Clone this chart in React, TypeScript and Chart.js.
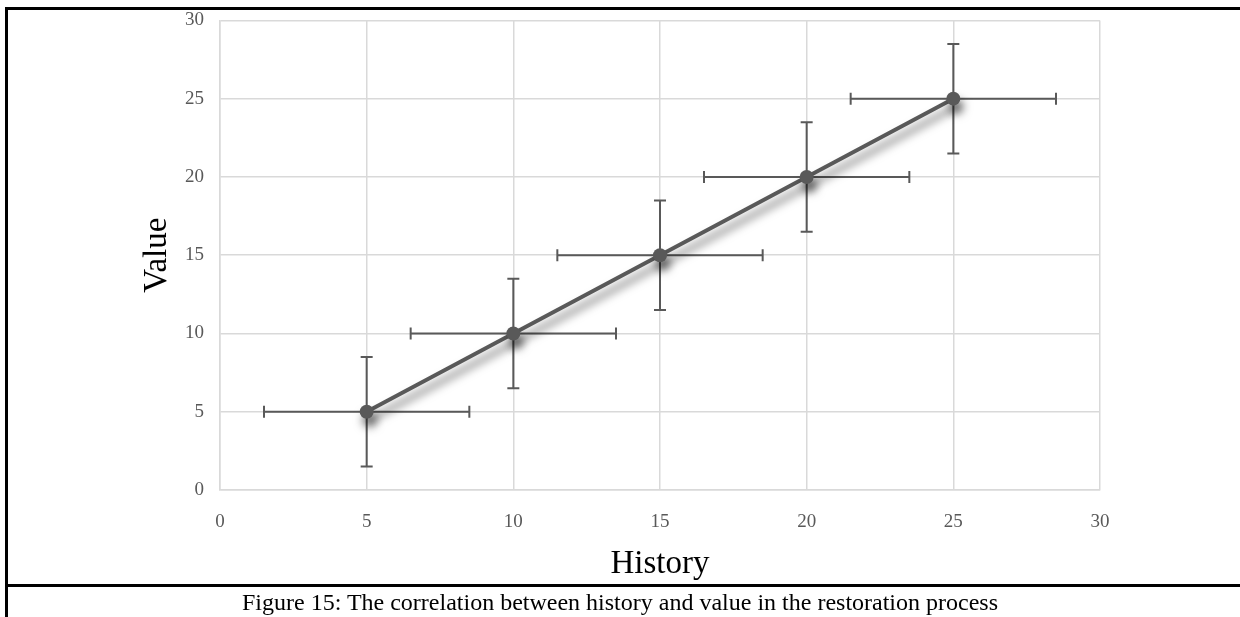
import React, { useEffect, useRef } from "react";
import { Chart, registerables } from "chart.js";

Chart.register(...registerables);

const historyValues = [5, 10, 15, 20, 25];
const valueValues = [5, 10, 15, 20, 25];
const xErrors = [3.5, 3.5, 3.5, 3.5, 3.5];
const yErrors = [3.5, 3.5, 3.5, 3.5, 3.5];
const xTitle = "History";
const yTitle = "Value";
const caption = "Figure 15: The correlation between history and value in the restoration process";

const MARK = "#595959";
const GRID = "#d9d9d9";
const FONT = "'Liberation Serif', 'Times New Roman', serif";

const errorBarPlugin = {
  id: "errorBars",
  beforeDatasetsDraw(chart: any) {
    const { ctx, scales } = chart;
    const xs = scales.x;
    const ys = scales.y;
    const cap = 6;
    ctx.save();
    ctx.strokeStyle = MARK;
    ctx.lineWidth = 2;
    historyValues.forEach((hx, i) => {
      const vy = valueValues[i];
      const px = xs.getPixelForValue(hx);
      const py = ys.getPixelForValue(vy);
      const x1 = xs.getPixelForValue(hx - xErrors[i]);
      const x2 = xs.getPixelForValue(hx + xErrors[i]);
      const y1 = ys.getPixelForValue(vy - yErrors[i]);
      const y2 = ys.getPixelForValue(vy + yErrors[i]);
      ctx.beginPath();
      ctx.moveTo(x1, py);
      ctx.lineTo(x2, py);
      ctx.moveTo(x1, py - cap);
      ctx.lineTo(x1, py + cap);
      ctx.moveTo(x2, py - cap);
      ctx.lineTo(x2, py + cap);
      ctx.moveTo(px, y1);
      ctx.lineTo(px, y2);
      ctx.moveTo(px - cap, y1);
      ctx.lineTo(px + cap, y1);
      ctx.moveTo(px - cap, y2);
      ctx.lineTo(px + cap, y2);
      ctx.stroke();
    });
    ctx.restore();
  },
};

const shadowPlugin = {
  id: "shadow",
  beforeDatasetDraw(chart: any) {
    const ctx = chart.ctx;
    ctx.save();
    ctx.shadowColor = "rgba(0,0,0,0.6)";
    ctx.shadowBlur = 10;
    ctx.shadowOffsetX = 3;
    ctx.shadowOffsetY = 8;
  },
  afterDatasetDraw(chart: any) {
    chart.ctx.restore();
  },
};

export default function App() {
  const ref = useRef<HTMLCanvasElement | null>(null);
  useEffect(() => {
    if (!ref.current) return;
    const chart = new Chart(ref.current, {
      type: "scatter",
      data: {
        datasets: [
          {
            data: historyValues.map((x, i) => ({ x, y: valueValues[i] })),
            showLine: true,
            borderColor: MARK,
            borderWidth: 4,
            backgroundColor: MARK,
            pointRadius: 7,
            pointBorderWidth: 0,
            pointBackgroundColor: MARK,
          },
        ],
      },
      options: {
        animation: false,
        responsive: false,
        layout: { padding: { left: 120, top: 0, right: 132, bottom: 0 } },
        plugins: { legend: { display: false }, tooltip: { enabled: false } },
        scales: {
          x: {
            type: "linear",
            min: 0,
            max: 30,
            ticks: { stepSize: 5, color: MARK, padding: 21, font: { family: FONT, size: 19 } },
            grid: { color: GRID, lineWidth: 1.5, drawTicks: false },
            border: { color: GRID, width: 1.5 },
            title: { display: true, text: xTitle, color: "#000", padding: { top: 0, bottom: 0 }, font: { family: FONT, size: 33 } },
            afterFit: (axis: any) => { axis.height = 94; },
          },
          y: {
            type: "linear",
            min: 0,
            max: 30,
            ticks: { stepSize: 5, color: MARK, padding: 16, font: { family: FONT, size: 19 } },
            grid: { color: GRID, lineWidth: 1.5, drawTicks: false },
            border: { color: GRID, width: 1.5 },
            title: { display: true, text: yTitle, color: "#000", padding: { top: 10, bottom: 0 }, font: { family: FONT, size: 33 } },
            afterFit: (axis: any) => { axis.width = 92; },
          },
        },
      },
      plugins: [errorBarPlugin, shadowPlugin],
    } as any);
    return () => chart.destroy();
  }, []);

  return (
    <div style={{ position: "fixed", left: 0, top: 0, width: 1240, height: 617, background: "#fff", overflow: "hidden" }}>
      <canvas ref={ref} width={1224} height={591} style={{ position: "absolute", left: 8, top: -7, width: 1224, height: 591 }} />
      <div style={{ position: "absolute", left: 0, top: 0, width: 1240, height: 7, background: "#fff" }} />
      <div style={{ position: "absolute", left: 5, top: 7, width: 1235, height: 3, background: "#000" }} />
      <div style={{ position: "absolute", left: 5, top: 7, width: 3, height: 610, background: "#000" }} />
      <div style={{ position: "absolute", left: 5, top: 584, width: 1235, height: 3, background: "#000" }} />
      <div style={{ position: "absolute", left: 8, top: 588, width: 1224, textAlign: "center", fontFamily: FONT, fontSize: 24, color: "#000", whiteSpace: "nowrap", lineHeight: "28px" }}>
        {caption}
      </div>
    </div>
  );
}
